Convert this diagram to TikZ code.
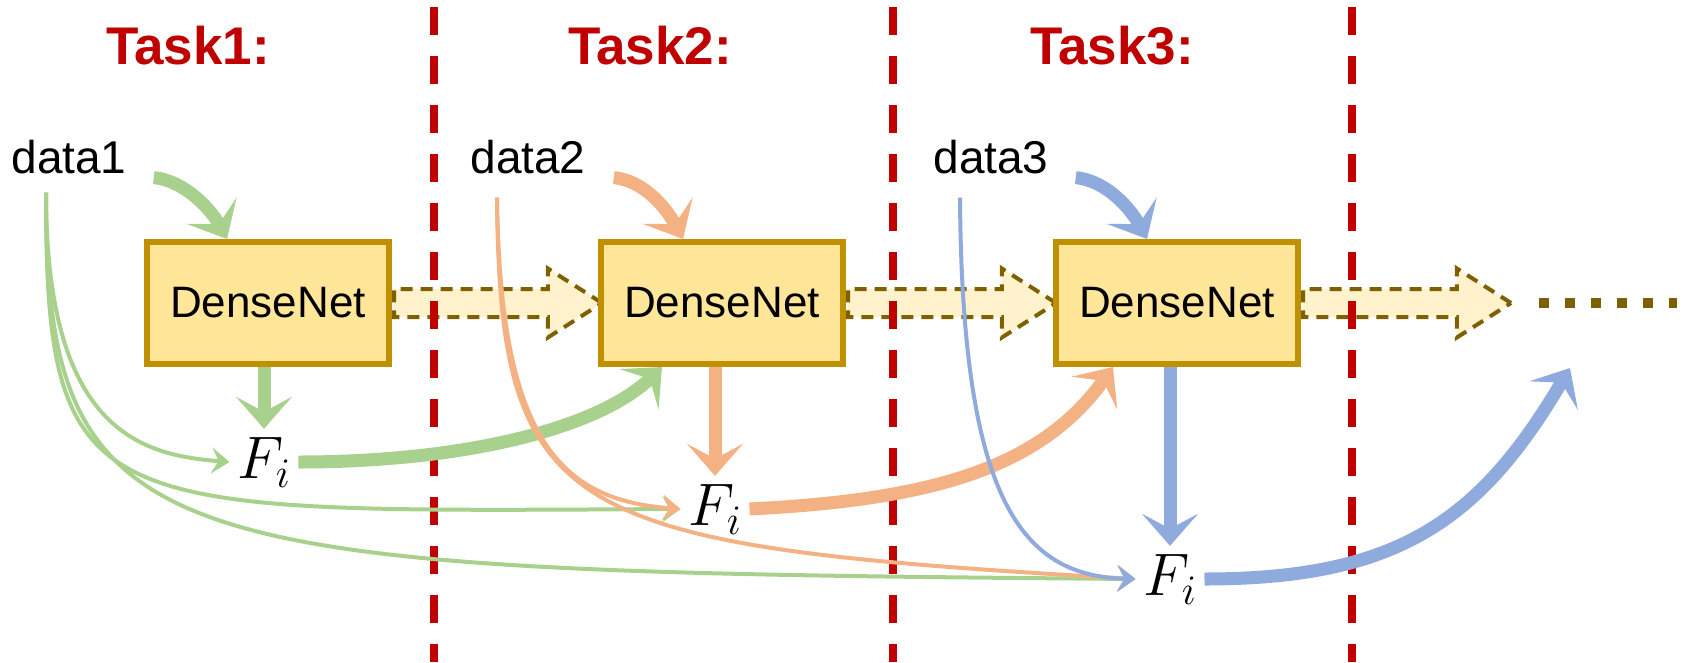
\RequirePackage{fix-cm}
\documentclass[tikz,border=0pt]{standalone}
\usepackage{fontspec}
\setmainfont{Liberation Sans}
\usetikzlibrary{shapes.arrows, arrows.meta, positioning}
\definecolor{taskred}{RGB}{192,0,0}
\definecolor{netfill}{RGB}{255,230,153}
\definecolor{netline}{RGB}{191,144,0}
\definecolor{carryfill}{RGB}{255,242,204}
\definecolor{carryline}{RGB}{127,96,0}
\definecolor{featgreen}{RGB}{169,209,142}
\definecolor{featorange}{RGB}{244,177,131}
\definecolor{featblue}{RGB}{143,170,220}
\tikzstyle{task} = [
  text=taskred,
  font=\fontsize{53}{60}\selectfont\bfseries
]
\tikzstyle{datatext} = [
  anchor=base,
  inner sep=4pt,
  font=\fontsize{46}{52}\selectfont
]
\tikzstyle{net} = [
  rectangle,
  minimum width=242pt,
  minimum height=122pt,
  line width=6pt,
  draw=netline,
  fill=netfill,
  font=\fontsize{44}{50}\selectfont
]
\tikzstyle{feat} = [
  anchor=base,
  inner sep=8pt,
  font=\fontsize{60}{66}\selectfont
]
\tikzstyle{carry} = [
  single arrow,
  draw=carryline,
  fill=carryfill,
  line width=4pt,
  dash pattern=on 12pt off 8pt,
  minimum height=208pt,
  minimum width=65pt,
  single arrow head extend=20.5pt,
  single arrow tip angle=65,
  inner xsep=0pt,
  inner ysep=12pt
]
\tikzstyle{trail} = [draw=carryline, line width=10pt, dash pattern=on 10pt off 16pt]
\tikzstyle{taskline} = [draw=taskred, line width=8pt, dash pattern=on 28pt off 21pt]
\tikzstyle{bigarrow} = [line width=13pt, -{Stealth[length=32pt, width=56pt, inset=15pt]}]
\tikzstyle{thinarrow} = [line width=4pt, -{Stealth[length=18pt, width=26pt, inset=7pt]}]
\pgfdeclarelayer{background}
\pgfsetlayers{background,main}
\begin{document}
\begin{tikzpicture}[x=1pt, y=-1pt]
    \useasboundingbox (0,0) rectangle (1693,662);

    \node (task1) [task] at (188,46) {Task1:};
    \node (task2) [task] at (650,46) {Task2:};
    \node (task3) [task] at (1112,46) {Task3:};
    \node (data1) [datatext] at (69,173) {data1};
    \node (data2) [datatext] at (528,173) {data2};
    \node (data3) [datatext] at (991,173) {data3};
    \node (net1) [net] at (268,303) {DenseNet};
    \node (net2) [net] at (722,303) {DenseNet};
    \node (net3) [net] at (1177,303) {DenseNet};
    \node (feat1) [feat] at (264,478) {$F_i$};
    \node (feat2) [feat] at (715,525) {$F_i$};
    \node (feat3) [feat] at (1170,595) {$F_i$};
    \coordinate (next) at (1570,368);
    \coordinate (etc) at (1677,303);

    \begin{pgfonlayer}{background}
      \node (carry1) [carry, right=0pt of net1] {};
      \node (carry2) [carry, right=0pt of net2] {};
      \node (carry3) [carry, right=0pt of net3] {};
      \draw [trail] ([xshift=24pt]carry3.east) -- (etc);
      \draw [taskline] (434,7) -- (434,662);
      \draw [taskline] (893,7) -- (893,662);
      \draw [taskline] (1352,7) -- (1352,662);
    \end{pgfonlayer}

    % inputs into each network
    \draw [bigarrow, draw=featgreen] ([xshift=23pt]data1.south east) .. controls +(32,3) and +(-15,-28) .. ([xshift=-41pt]net1.north);
    \draw [bigarrow, draw=featorange] ([xshift=24pt]data2.south east) .. controls +(32,3) and +(-15,-28) .. ([xshift=-39pt]net2.north);
    \draw [bigarrow, draw=featblue] ([xshift=23pt]data3.south east) .. controls +(32,3) and +(-15,-28) .. ([xshift=-30pt]net3.north);

    \draw [bigarrow, draw=featgreen] (feat1 |- net1.south) -- (feat1.north);
    \draw [bigarrow, draw=featorange] (feat2 |- net2.south) -- (feat2.north);
    \draw [bigarrow, draw=featblue] (feat3 |- net3.south) -- (feat3.north);

    % features passed on to the next task
    \draw [bigarrow, draw=featgreen] (feat1.east) .. controls +(170,0) and +(-62,60) .. ([xshift=-60pt]net2.south);
    \draw [bigarrow, draw=featorange] (feat2.east) .. controls +(180,-9) and +(-73,102) .. ([xshift=-64pt]net3.south);
    \draw [bigarrow, draw=featblue] (feat3.east) .. controls +(194,0) and +(-90,152) .. (next);

    % old data reaching later features
    \draw [thinarrow, draw=featgreen] ([xshift=-23pt,yshift=-15pt]data1.south) .. controls +(0,238) and +(-89,-7) .. (feat1.west);
    \draw [thinarrow, draw=featgreen] ([xshift=-23pt,yshift=-15pt]data1.south) .. controls +(0,328) and +(-590,3) .. (feat2.west);
    \draw [thinarrow, draw=featgreen] ([xshift=-23pt,yshift=-15pt]data1.south) .. controls +(0,368) and +(-984,-8) .. (feat3.west);
    \draw [thinarrow, draw=featorange] ([xshift=-31pt,yshift=-20pt]data2.south) .. controls +(3,243) and +(-120,-9) .. (feat2.west);
    \draw [thinarrow, draw=featorange] ([xshift=-31pt,yshift=-20pt]data2.south) .. controls +(3,323) and +(-574,-33) .. (feat3.west);
    \draw [thinarrow, draw=featblue] ([xshift=-31pt,yshift=-20pt]data3.south) .. controls +(2,303) and +(-114,-3) .. (feat3.west);
\end{tikzpicture}
\end{document}
